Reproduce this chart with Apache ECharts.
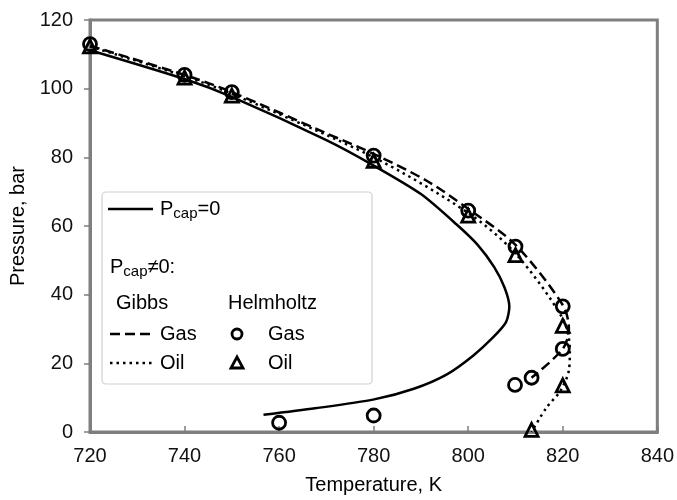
<!DOCTYPE html>
<html>
<head>
<meta charset="utf-8">
<script src="https://cdn.jsdelivr.net/npm/echarts@6/dist/echarts.min.js"></script>
<style>
  html, body { margin: 0; padding: 0; background: #fff; }
  #chart { width: 677px; height: 500px; }
</style>
</head>
<body>
<div id="chart"></div>
<script>
// temperature (K), pressure (bar) pairs
var pcapZero = [
  [720, 111.2], [740, 102.8], [750, 97.6], [770, 85.0], [780, 77.6], [790, 69.3],
  [797.5, 60.5], [802, 54.5], [805.5, 48.0], [807.7, 42.0], [808.7, 36.5],
  [808.0, 32.0], [805.3, 27.6], [801.1, 22.3], [795.5, 16.8], [788.5, 12.6],
  [780.1, 9.5], [767.6, 6.9], [756.7, 5.0]
];
var gibbsGas = [
  [720, 112.5], [740, 104.0], [750, 99.0], [770, 87.0], [780, 81.0], [791.3, 73.1],
  [800, 65.0], [810, 54.5], [820, 37.0], [821.3, 30.0], [820, 24.2], [813.4, 15.8]
];
var gibbsOil = [
  [720, 112.3], [740, 103.6], [750, 98.5], [780, 80.0], [800, 63.8], [810, 52.0],
  [820, 33.0], [821.5, 24.0], [821.3, 18.0], [819.5, 12.0], [816.5, 7.0], [813.4, 0]
];
var helmGas = [
  [720, 113.0], [740, 104.0], [750, 99.0], [780, 80.5], [800, 64.5], [810, 54.0],
  [820, 36.6], [820, 24.2], [813.4, 15.8], [809.9, 13.7], [780, 4.8], [760, 2.7]
];
var helmOil = [
  [720, 112.3], [740, 103.2], [750, 98.0], [780, 79.0], [800, 63.0], [810, 51.5],
  [820, 30.9], [820, 13.6], [813.4, 0.6]
];
var xTicks = { min: 720, max: 840, step: 20 };
var yTicks = { min: 0, max: 120, step: 20 };

var font = '"Liberation Sans", Arial, sans-serif';
var axisGray = '#7f7f7f';

var chart = echarts.init(document.getElementById('chart'));

var richText = {
  n: { fontSize: 20, fontFamily: font, fill: '#000', lineHeight: 24 },
  s: { fontSize: 15, fontFamily: font, fill: '#000', lineHeight: 12, verticalAlign: 'bottom' }
};

function txt(x, y, text) {
  return {
    type: 'text', x: x, y: y, z: 101,
    style: { text: text, rich: richText, verticalAlign: 'middle', align: 'left' }
  };
}

var option = {
  animation: false,
  grid: {
    left: 90, right: 15, top: 20, bottom: 62,
    show: true, borderColor: axisGray, borderWidth: 3, backgroundColor: '#fff'
  },
  xAxis: {
    type: 'value',
    min: xTicks.min, max: xTicks.max, interval: xTicks.step,
    name: 'Temperature, K',
    nameLocation: 'middle', nameGap: 43,
    nameTextStyle: { fontSize: 20, fontFamily: font, color: '#000' },
    axisLine: { lineStyle: { color: axisGray, width: 3 } },
    axisTick: { show: true, inside: true, length: 6, lineStyle: { color: axisGray, width: 1.5 } },
    axisLabel: { fontSize: 20, fontFamily: font, color: '#111', margin: 14, showMaxLabel: true },
    splitLine: { show: false }
  },
  yAxis: {
    type: 'value',
    min: yTicks.min, max: yTicks.max, interval: yTicks.step,
    name: 'Pressure, bar',
    nameLocation: 'middle', nameGap: 58,
    nameTextStyle: { fontSize: 20, fontFamily: font, color: '#000' },
    axisLine: { lineStyle: { color: axisGray, width: 3 } },
    axisTick: { show: true, inside: false, length: 6, lineStyle: { color: axisGray, width: 1.5 } },
    axisLabel: { fontSize: 20, fontFamily: font, color: '#111', margin: 17 },
    splitLine: { show: false }
  },
  series: [
    {
      name: 'Pcap=0', type: 'line', data: pcapZero,
      smooth: 0.25, symbol: 'none',
      lineStyle: { color: '#000', width: 2.5 }
    },
    {
      name: 'Gibbs Gas', type: 'line', data: gibbsGas,
      smooth: 0.3, symbol: 'none',
      lineStyle: { color: '#000', width: 2.5, type: [10, 5] }
    },
    {
      name: 'Gibbs Oil', type: 'line', data: gibbsOil,
      smooth: 0.3, symbol: 'none',
      lineStyle: { color: '#000', width: 2.5, type: [2.5, 4] }
    },
    {
      name: 'Helmholtz Gas', type: 'scatter', data: helmGas,
      symbol: 'circle', symbolSize: 13, clip: false,
      itemStyle: { color: 'rgba(0,0,0,0)', borderColor: '#000', borderWidth: 2.8, opacity: 1 }
    },
    {
      name: 'Helmholtz Oil', type: 'scatter', data: helmOil,
      symbol: 'triangle', symbolSize: 13, clip: false,
      itemStyle: { color: 'rgba(0,0,0,0)', borderColor: '#000', borderWidth: 2.8, opacity: 1 }
    }
  ],
  graphic: [
    {
      type: 'rect', z: 100,
      shape: { x: 102, y: 192, width: 270, height: 192, r: 4 },
      style: { fill: '#fff', stroke: '#cfcfcf', lineWidth: 1.2 }
    },
    { type: 'line', z: 101, shape: { x1: 108, y1: 209, x2: 153, y2: 209 },
      style: { stroke: '#000', lineWidth: 2.5 } },
    txt(160, 209, '{n|P}{s|cap}{n|=0}'),
    txt(110, 267, '{n|P}{s|cap}{n|≠0:}'),
    txt(116, 303, '{n|Gibbs}'),
    txt(228, 303, '{n|Helmholtz}'),
    { type: 'line', z: 101, shape: { x1: 110, y1: 334, x2: 153, y2: 334 },
      style: { stroke: '#000', lineWidth: 2.5, lineDash: [10, 5] } },
    txt(160, 334, '{n|Gas}'),
    { type: 'circle', z: 101, shape: { cx: 237, cy: 334, r: 5 },
      style: { fill: 'none', stroke: '#000', lineWidth: 2.8 } },
    txt(268, 334, '{n|Gas}'),
    { type: 'line', z: 101, shape: { x1: 110, y1: 363, x2: 153, y2: 363 },
      style: { stroke: '#000', lineWidth: 2.5, lineDash: [2.5, 4] } },
    txt(160, 363, '{n|Oil}'),
    { type: 'polygon', z: 101, shape: { points: [[237, 357], [243, 368], [231, 368]] },
      style: { fill: 'none', stroke: '#000', lineWidth: 2.8 } },
    txt(268, 363, '{n|Oil}')
  ]
};

chart.setOption(option);
</script>
</body>
</html>
